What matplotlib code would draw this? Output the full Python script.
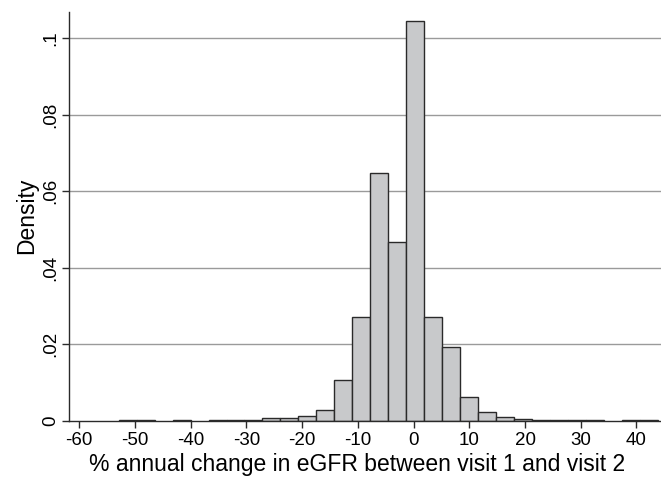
import numpy as np
import matplotlib.pyplot as plt

# histogram of % annual change in eGFR
bin_start = -59.36
bin_width = 3.223
density = [0, 0, 0.0002, 0.0002, 0, 0.0002, 0, 0.0002, 0.0002, 0.0002,
           0.0006, 0.0006, 0.0013, 0.0029, 0.0106, 0.0272, 0.0647, 0.0467,
           0.1045, 0.0272, 0.0192, 0.0061, 0.0024, 0.0010, 0.0005, 0.0002,
           0.0002, 0.0002, 0.0002, 0, 0.0002, 0.0002]
xticks = [-60, -50, -40, -30, -20, -10, 0, 10, 20, 30, 40]
yticks = [0, 0.02, 0.04, 0.06, 0.08, 0.1]
ylabels = ['0', '.02', '.04', '.06', '.08', '.1']

plt.rcParams['font.family'] = ['Liberation Sans', 'DejaVu Sans']
plt.rcParams['axes.unicode_minus'] = False

fig = plt.figure(figsize=(6.61, 4.83), dpi=100)
ax = fig.add_axes([0.1048, 0.129, 0.8952, 0.8468])

dens = np.array(density)
lefts = bin_start + bin_width * np.arange(len(dens))
keep = dens > 0
ax.bar(lefts[keep], dens[keep], width=bin_width, align='edge',
       color='#c8c9cb', edgecolor='#2a2a2a', linewidth=1.0, zorder=3)

for v in yticks[1:]:
    ax.axhline(v, color='#9a9a9a', linewidth=1.0, zorder=1)

ax.set_xlim(-61.8, 44.4)
ax.set_ylim(0, 0.107)
ax.set_xticks(xticks)
ax.set_yticks(yticks)
ax.set_yticklabels(ylabels, rotation=90, va='center')
ax.tick_params(axis='both', labelsize=13.5, color='#2a2a2a', length=5, width=1)
ax.tick_params(axis='x', pad=3)
ax.tick_params(axis='y', pad=2)

for s in ['top', 'right']:
    ax.spines[s].set_visible(False)
for s in ['left', 'bottom']:
    ax.spines[s].set_color('#2a2a2a')
    ax.spines[s].set_linewidth(1.0)
    ax.spines[s].set_zorder(4)

ax.set_xlabel('% annual change in eGFR between visit 1 and visit 2', fontsize=16.5)
ax.xaxis.set_label_coords(0.486, -0.08)
ax.set_ylabel('Density', fontsize=16.5, labelpad=3)

fig.savefig('out.png', dpi=100)
